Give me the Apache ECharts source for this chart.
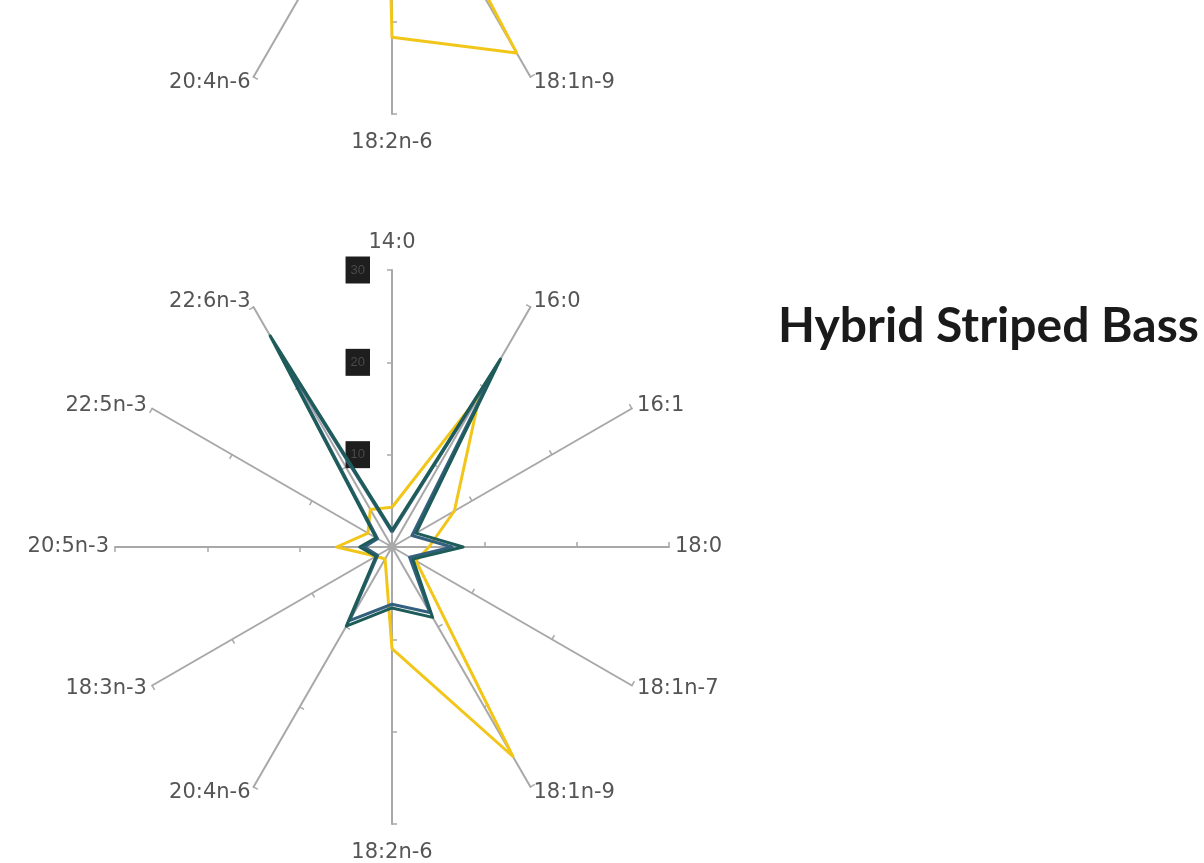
<!DOCTYPE html>
<html>
<head>
<meta charset="utf-8">
<script src="https://cdn.jsdelivr.net/npm/echarts@6/dist/echarts.min.js"></script>
<style>
  html, body { margin: 0; padding: 0; background: #fff; }
  #chart { width: 1204px; height: 863px; }
</style>
</head>
<body>
<div id="chart"></div>
<script>
// 脂肪酸轴（顺时针，从顶部开始）
const fattyAcids = ['14:0', '16:0', '16:1', '18:0', '18:1n-7', '18:1n-9',
  '18:2n-6', '20:4n-6', '18:3n-3', '20:5n-3', '22:5n-3', '22:6n-3'];

// 刻度标签（被遮挡的数值）
const tickValues = [10, 20, 30];

// 下方图表的三条线
const tealValues = [1.8, 23.5, 3, 7.7, 2.6, 8.8, 6.6, 9.9, 2, 3.5, 2, 26.4];
const blueValues = [1.6, 22.5, 2.5, 6.5, 2.2, 8.2, 6.2, 9.2, 1.8, 3, 1.8, 24.5];
const yellowValues = [4.3, 19, 7.8, 4, 3, 26.2, 11, 1.5, 2, 6, 3, 4.7];

// 上方（被裁切）图表只看得到黄线的底部
const upperYellowValues = [4, 18, 7, 4, 2, 27, 21.7, 1, 2, 6, 3, 5];

const axisMax = 30;

// ECharts 雷达默认逆时针排列，这里转成逆时针顺序
const ccw = arr => [arr[0]].concat(arr.slice(1).reverse());

const indicators = ccw(fattyAcids).map(name => ({ name: name, min: 0, max: axisMax }));

const labelFont = '"DejaVu Sans", Verdana, sans-serif';

const radarBase = {
  radius: 277,
  startAngle: 90,
  shape: 'polygon',
  splitNumber: 3,
  indicator: indicators,
  nameGap: 6,
  axisName: {
    color: '#555555',
    fontSize: 21,
    fontFamily: labelFont,
    formatter: function (name) {
      if (name === '14:0') return '{t|' + name + '}';
      if (name === '18:2n-6') return '{b|' + name + '}';
      return name;
    },
    rich: {
      t: { padding: [0, 0, 11, 0], color: '#555555', fontSize: 21, fontFamily: labelFont },
      b: { padding: [12, 0, 0, 0], color: '#555555', fontSize: 21, fontFamily: labelFont }
    }
  },
  axisLine: { lineStyle: { color: '#a8a8a8', width: 2 } },
  axisTick: { show: true, length: 5, lineStyle: { color: '#a8a8a8', width: 1.5 } },
  splitLine: { show: false },
  splitArea: { show: false }
};

const chart = echarts.init(document.getElementById('chart'));

const option = {
  backgroundColor: '#ffffff',
  animation: false,
  title: {
    text: 'Hybrid Striped Bass',
    left: 773,
    top: 298,
    textStyle: {
      color: '#1a1a1a',
      fontSize: 48,
      fontWeight: 'bold',
      fontFamily: 'Lato, "Open Sans", sans-serif'
    }
  },
  radar: [
    Object.assign({}, radarBase, { center: [392, -163] }),
    Object.assign({}, radarBase, { center: [392, 547] })
  ],
  // 14:0 轴旁边的刻度标签（原图被黑块遮住）
  grid: { left: 392, top: 270, width: 1, height: 277 },
  xAxis: { type: 'value', show: false },
  yAxis: {
    type: 'value',
    min: 0,
    max: axisMax,
    interval: 10,
    axisLine: { show: false },
    axisTick: { show: false },
    splitLine: { show: false },
    axisLabel: {
      showMinLabel: false,
      margin: 22,
      color: '#4a4a4a',
      fontSize: 13,
      backgroundColor: '#1e1e1e',
      padding: [7, 5, 7, 5],
      formatter: v => (tickValues.indexOf(v) >= 0 ? String(v) : '')
    }
  },
  series: [
    {
      type: 'radar',
      radarIndex: 0,
      symbol: 'none',
      lineStyle: { color: '#f2c619', width: 3 },
      data: [{ value: ccw(upperYellowValues), name: 'upper' }]
    },
    {
      type: 'radar',
      radarIndex: 1,
      symbol: 'none',
      z: 3,
      data: [
        { value: ccw(yellowValues), name: 'yellow', lineStyle: { color: '#f2c619', width: 3 } },
        { value: ccw(blueValues), name: 'blue', lineStyle: { color: '#33607e', width: 3 } },
        { value: ccw(tealValues), name: 'teal', lineStyle: { color: '#1d5c58', width: 3 } }
      ]
    }
  ]
};

chart.setOption(option);
</script>
</body>
</html>
